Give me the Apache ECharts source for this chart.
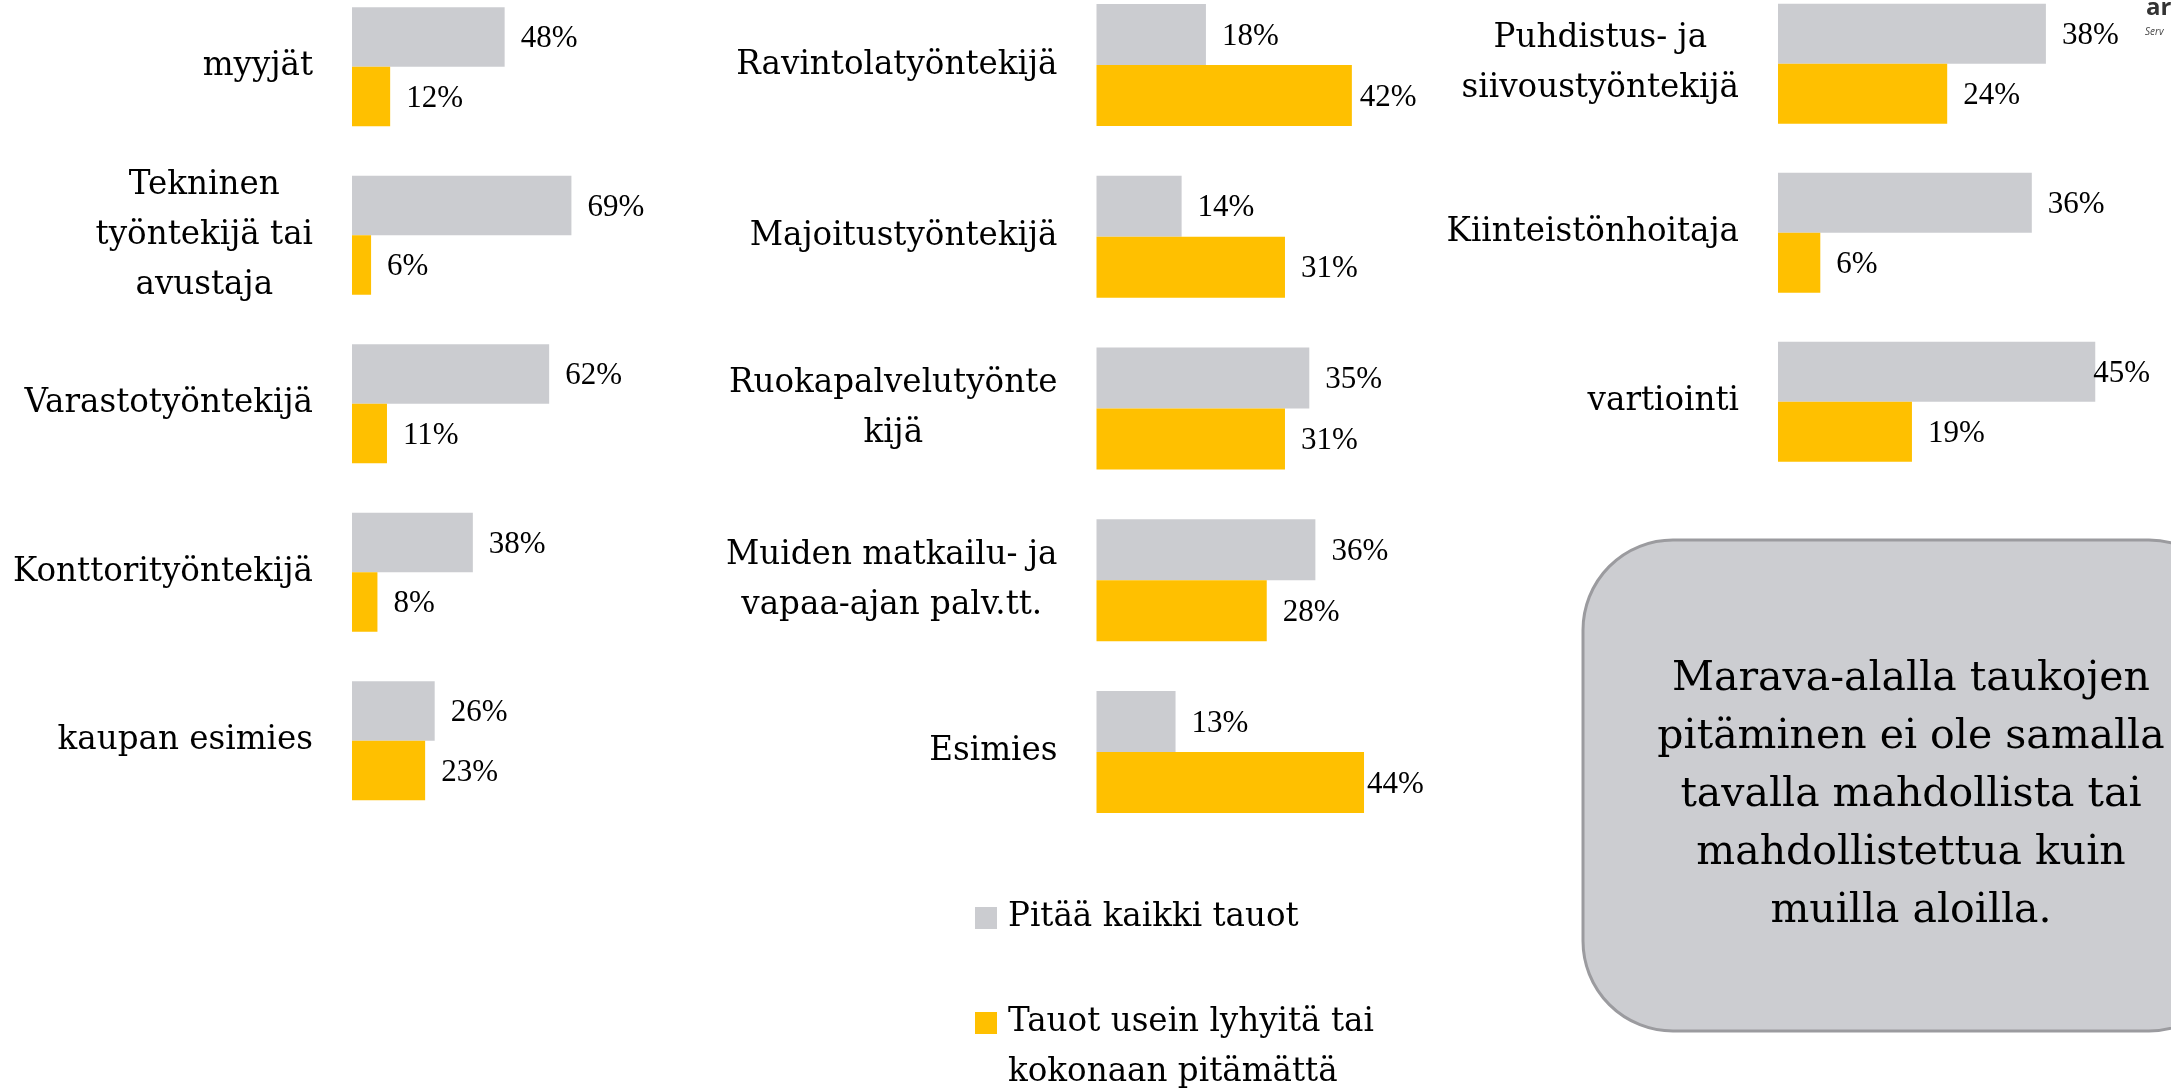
<!DOCTYPE html>
<html>
<head>
<meta charset="utf-8">
<title>Taukojen pitäminen ammateittain</title>
<script src="https://cdn.jsdelivr.net/npm/echarts@6.0.0/dist/echarts.min.js"></script>
<style>
  html, body { margin: 0; padding: 0; background: #fff; }
  #chart { width: 2171px; height: 1091px; }
</style>
</head>
<body>
<div id="chart"></div>
<script>
  // kaupan ala
  const leftCats = ['myyjät', 'Tekninen\ntyöntekijä tai\navustaja', 'Varastotyöntekijä', 'Konttorityöntekijä', 'kaupan esimies']
  const leftAll = [48, 69, 62, 38, 26]
  const leftShort = [12, 6, 11, 8, 23]

  // matkailu-, ravintola- ja vapaa-ajan ala
  const midCats = ['Ravintolatyöntekijä', 'Majoitustyöntekijä', 'Ruokapalvelutyönte\nkijä', 'Muiden matkailu- ja\nvapaa-ajan palv.tt.', 'Esimies']
  const midAll = [18, 14, 35, 36, 13]
  const midShort = [42, 31, 31, 28, 44]

  // kiinteistöpalvelut ja vartiointi
  const rightCats = ['Puhdistus- ja\nsiivoustyöntekijä', 'Kiinteistönhoitaja', 'vartiointi']
  const rightAll = [38, 36, 45]
  const rightShort = [24, 6, 19]

  const seriesNames = ['Pitää kaikki tauot', 'Tauot usein lyhyitä tai\nkokonaan pitämättä']
  const noteText = 'Marava-alalla taukojen\npitäminen ei ole samalla\ntavalla mahdollista tai\nmahdollistettua kuin\nmuilla aloilla.'

  const GRAY = '#CBCCD0'
  const ORANGE = '#FFC000'
  const SERIF = '"DejaVu Serif", serif'
  const NUM_FONT = '"Liberation Serif", serif'
  const TEXT_SIZE = 32.6

  // paneelien sijainnit (px), 100 % = width
  const panels = [
    { cats: leftCats, all: leftAll, short: leftShort, left: 352, width: 318, center0: 66.7, band: 168.5, barWidth: 59.5, pull: [{}, {}] },
    { cats: midCats, all: midAll, short: midShort, left: 1096.5, width: 608, center0: 65.1, band: 171.7, barWidth: 61, pull: [{}, { 0: 8, 4: 3 }] },
    { cats: rightCats, all: rightAll, short: rightShort, left: 1778, width: 705, center0: 63.7, band: 169, barWidth: 60, pull: [{ 2: -2 }, {}] }
  ]

  const chart = echarts.init(document.getElementById('chart'))

  const grids = []
  const xAxes = []
  const yAxes = []
  const series = []

  const valueLabel = {
    show: true,
    position: 'right',
    distance: 16,
    offset: [0, 2],
    formatter: '{c}%',
    fontFamily: NUM_FONT,
    fontSize: 31,
    color: '#000'
  }

  const toItems = (values, pull) =>
    values.map((v, i) => (pull[i] !== undefined ? { value: v, label: { distance: pull[i] } } : v))

  panels.forEach((p, i) => {
    grids.push({
      left: p.left,
      width: p.width,
      top: p.center0 - p.band / 2,
      height: p.band * p.cats.length,
      containLabel: false,
      outerBoundsMode: 'none'
    })
    xAxes.push({ type: 'value', gridIndex: i, min: 0, max: 100, show: false })
    yAxes.push({
      type: 'category',
      gridIndex: i,
      inverse: true,
      data: p.cats,
      axisLine: { show: false },
      axisTick: { show: false },
      splitLine: { show: false },
      axisLabel: {
        margin: 39,
        color: '#000',
        fontFamily: SERIF,
        fontSize: TEXT_SIZE,
        lineHeight: 50,
        // rivit keskitetään toistensa suhteen, lohko tasataan oikealle
        formatter: (val) => val.split('\n').map((s) => '{c|' + s + '}').join('\n'),
        rich: {
          c: { align: 'center', fontFamily: SERIF, fontSize: TEXT_SIZE, lineHeight: 50, color: '#000' }
        }
      }
    })
    ;[p.all, p.short].forEach((vals, k) => {
      series.push({
        type: 'bar',
        name: seriesNames[k],
        xAxisIndex: i,
        yAxisIndex: i,
        barWidth: p.barWidth,
        barGap: '0%',
        itemStyle: { color: k === 0 ? GRAY : ORANGE },
        label: valueLabel,
        silent: true,
        data: toItems(vals, p.pull[k])
      })
    })
  })

  const option = {
    animation: false,
    backgroundColor: '#fff',
    textStyle: { fontFamily: SERIF },
    grid: grids,
    xAxis: xAxes,
    yAxis: yAxes,
    legend: {
      orient: 'vertical',
      left: 975,
      top: 893,
      height: 400,
      padding: 0,
      itemGap: 5,
      itemWidth: 22,
      itemHeight: 22,
      icon: 'rect',
      selectedMode: false,
      // tyhjä ensimmäinen rivi: kaksirivisen nimen 1. rivi ikonin kohdalle
      formatter: (name) => (name === seriesNames[1] ? '\n' + name : name),
      textStyle: { fontFamily: SERIF, fontSize: TEXT_SIZE, lineHeight: 50, color: '#000', padding: [0, 0, 0, 6] },
      data: seriesNames
    },
    graphic: [
      {
        type: 'rect',
        shape: { x: 1583, y: 540, width: 656, height: 491, r: 90 },
        style: { fill: '#CCCDD1', stroke: '#9B9B9F', lineWidth: 3 },
        silent: true
      },
      {
        type: 'text',
        style: {
          text: noteText,
          x: 1911,
          y: 795,
          align: 'center',
          verticalAlign: 'middle',
          fontFamily: SERIF,
          fontSize: 41,
          lineHeight: 58,
          fill: '#000'
        },
        silent: true
      },
      {
        type: 'text',
        style: {
          text: 'ar',
          x: 2146,
          y: 8,
          verticalAlign: 'middle',
          fontFamily: '"Open Sans", sans-serif',
          fontWeight: 'bold',
          fontSize: 24,
          fill: '#333'
        },
        silent: true
      },
      {
        type: 'text',
        style: {
          text: 'Serv',
          x: 2145,
          y: 32,
          verticalAlign: 'middle',
          fontFamily: '"Open Sans", sans-serif',
          fontStyle: 'italic',
          fontSize: 10,
          fill: '#444'
        },
        silent: true
      }
    ],
    series: series
  }

  chart.setOption(option)

  window.addEventListener('resize', () => chart.resize())
</script>
</body>
</html>
